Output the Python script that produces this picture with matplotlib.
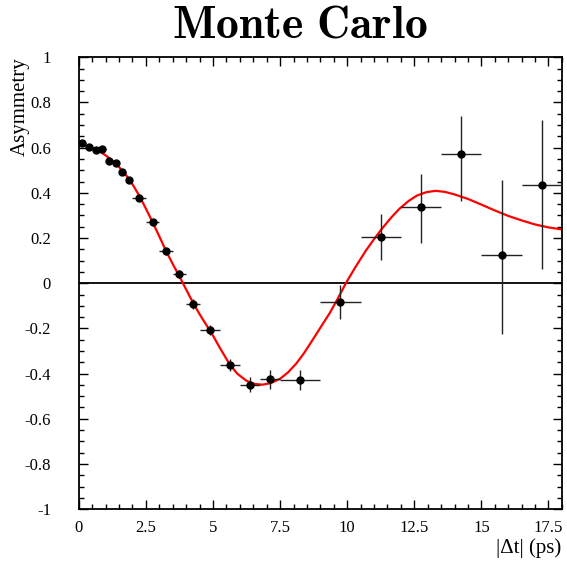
import matplotlib
matplotlib.use("Agg")
import matplotlib.pyplot as plt
from matplotlib.ticker import MultipleLocator

plt.rcParams['font.family'] = ['Liberation Serif', 'DejaVu Serif']
plt.rcParams['mathtext.fontset'] = 'cm'
plt.rcParams['axes.unicode_minus'] = False

# measured asymmetry (bin centres, half widths, values, errors down/up)
dt = [0.125, 0.375, 0.625, 0.875, 1.125, 1.375, 1.625, 1.875,
      2.25, 2.75, 3.25, 3.75, 4.25,
      4.875, 5.625, 6.375, 7.125,
      8.25, 9.75, 11.25, 12.75, 14.25, 15.75, 17.25]
dt_err = [0.125] * 8 + [0.25] * 5 + [0.375] * 4 + [0.75] * 7
asym = [0.620, 0.605, 0.588, 0.592, 0.541, 0.533, 0.492, 0.455,
        0.375, 0.269, 0.141, 0.040, -0.093,
        -0.208, -0.363, -0.450, -0.426,
        -0.427, -0.083, 0.205, 0.337, 0.572, 0.127, 0.433]
asym_lo = [0.008, 0.008, 0.008, 0.008, 0.008, 0.008, 0.009, 0.009,
           0.012, 0.014, 0.016, 0.018, 0.022,
           0.022, 0.027, 0.033, 0.044,
           0.044, 0.075, 0.103, 0.161, 0.21, 0.35, 0.372]
asym_hi = [0.008, 0.008, 0.008, 0.008, 0.008, 0.008, 0.009, 0.009,
           0.012, 0.014, 0.016, 0.018, 0.022,
           0.022, 0.027, 0.033, 0.044,
           0.044, 0.075, 0.100, 0.146, 0.17, 0.33, 0.29]

# fit curve
fit_t = [0.0, 0.25, 0.5, 0.75, 1.0, 1.25, 1.5, 1.75, 2.0, 2.25, 2.5, 2.75,
         3.0, 3.25, 3.5, 3.75, 4.0, 4.25, 4.5, 5.0, 5.25, 5.6, 5.9, 6.25,
         6.55, 6.85, 7.15, 7.5, 7.8, 8.1, 8.4, 8.7, 9.0, 9.35, 9.65, 9.95,
         10.3, 10.7, 11.0, 11.3, 11.65, 11.95, 12.3, 12.6, 12.95, 13.3,
         13.65, 14.0, 14.5, 15.0, 15.5, 16.0, 16.5, 17.0, 17.5, 18.0]
fit_a = [0.612, 0.607, 0.598, 0.585, 0.566, 0.542, 0.514, 0.480, 0.438,
         0.388, 0.330, 0.270, 0.207, 0.143, 0.085, 0.030, -0.028, -0.085,
         -0.137, -0.232, -0.285, -0.355, -0.400, -0.432, -0.446, -0.449,
         -0.442, -0.423, -0.394, -0.356, -0.308, -0.253, -0.197, -0.132,
         -0.068, 0.000, 0.070, 0.145, 0.195, 0.242, 0.292, 0.330, 0.365,
         0.388, 0.403, 0.409, 0.404, 0.393, 0.373, 0.348, 0.322, 0.298,
         0.278, 0.260, 0.247, 0.238]

xticks = [0, 2.5, 5, 7.5, 10, 12.5, 15, 17.5]
xticklabels = ["0", "2.5", "5", "7.5", "10", "12.5", "15", "17.5"]
yticks = [-1, -0.8, -0.6, -0.4, -0.2, 0, 0.2, 0.4, 0.6, 0.8, 1]
yticklabels = ["-1", "-0.8", "-0.6", "-0.4", "-0.2", "0", "0.2", "0.4", "0.6", "0.8", "1"]

fig = plt.figure(figsize=(5.67, 5.67), dpi=100)
ax = fig.add_axes([0.139, 0.102, 0.852, 0.797])

ax.axhline(0, color='black', lw=1.3, zorder=1)
ax.plot(fit_t, fit_a, color='red', lw=1.6, zorder=2)
ax.errorbar(dt, asym, xerr=dt_err, yerr=[asym_lo, asym_hi], fmt='o', color='black',
            ecolor='#222222', elinewidth=1.0, capsize=0, markersize=5, zorder=3)

ax.set_xlim(0, 18)
ax.set_ylim(-1, 1)
ax.set_xticks(xticks)
ax.set_xticklabels(xticklabels)
ax.set_yticks(yticks)
ax.set_yticklabels(yticklabels)
ax.xaxis.set_minor_locator(MultipleLocator(0.5))
ax.yaxis.set_minor_locator(MultipleLocator(0.05))
ax.tick_params(which='both', direction='in', top=True, right=True, width=1.0)
ax.tick_params(which='major', length=6.5)
ax.tick_params(which='minor', length=3.5)
ax.tick_params(axis='y', which='major', pad=20, labelsize=12)
ax.tick_params(axis='x', which='major', pad=8, labelsize=12)
for s in ax.spines.values():
    s.set_linewidth(1.3)

fig.text(0.529, 0.953, r'$\mathbf{Monte\ Carlo}$', ha='center', va='center', fontsize=33)
fig.text(0.036, 0.899, 'Asymmetry', rotation=90, ha='center', va='top', fontsize=15)
fig.text(0.989, 0.015, '|Δt| (ps)', ha='right', va='bottom', fontsize=15)

fig.savefig('out.png', dpi=100)
